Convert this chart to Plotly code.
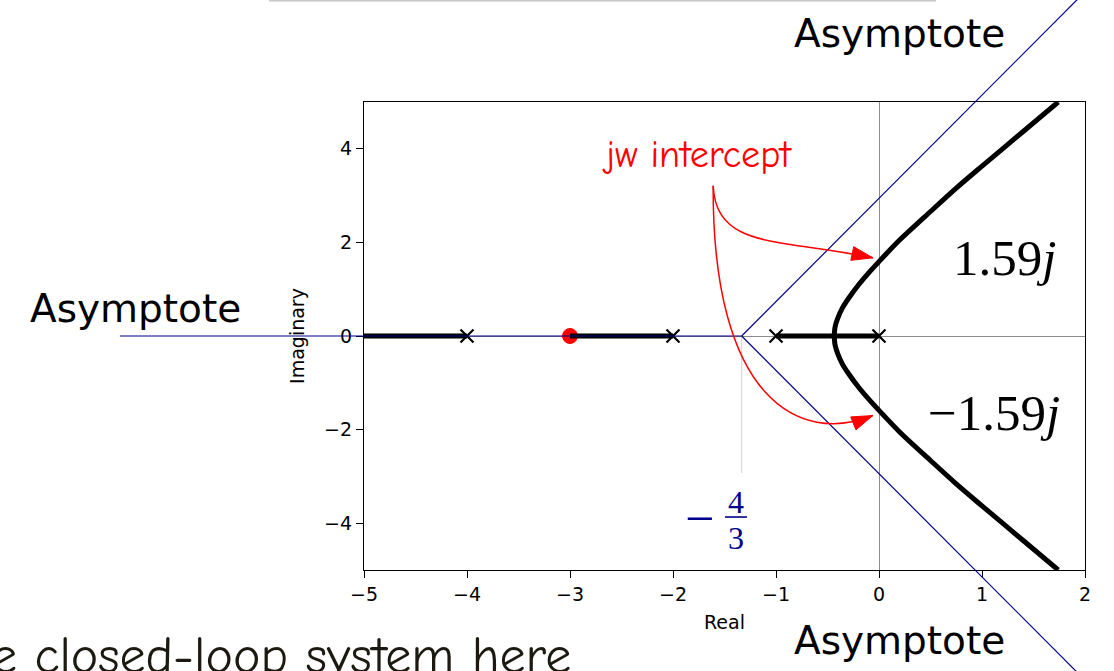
import math
import plotly.graph_objects as go

# ---- open-loop poles and zero of G(s) = (s+3) / (s(s+1)(s+2)(s+4)) ----
poles_re = [0.0, -1.0, -2.0, -4.0]
poles_im = [0.0, 0.0, 0.0, 0.0]
zeros_re = [-3.0]
zeros_im = [0.0]

# ---- locus segments lying on the real axis ----
real_seg1_re = [-5.0, -4.0]
real_seg2_re = [-3.0, -2.0]
real_seg3_re = [-1.0, 0.0]
real_seg_im = [0.0, 0.0]

# ---- complex branches leaving the breakaway point ----
upper_re = [-0.435, -0.426, -0.40, -0.355, -0.30, -0.20, -0.10, 0.0, 0.20, 0.50, 0.75, 1.00, 1.40, 1.74]
upper_im = [0.0, 0.20, 0.38, 0.60, 0.79, 1.09, 1.35, 1.59, 2.05, 2.66, 3.16, 3.63, 4.37, 5.0]
lower_re = [-0.435, -0.426, -0.40, -0.355, -0.30, -0.20, -0.10, 0.0, 0.20, 0.50, 0.75, 1.00, 1.40, 1.74]
lower_im = [0.0, -0.20, -0.38, -0.60, -0.79, -1.09, -1.35, -1.59, -2.05, -2.66, -3.16, -3.63, -4.37, -5.0]

# ---- asymptotes ----
asym_centroid = -4 / 3
asym_left_end_re = -7.37
asym_right_end_re = 1.93
asym_right_end_im = 7.2

# ---- annotation labels ----
jw_upper_label = "1.59<i>j</i>"
jw_lower_label = "\u22121.59<i>j</i>"

# ---- figure geometry ----
W, H = 1114, 671
ML, MR, MT, MB = 364, 29, 102, 101
XR = [-5, 2]
YR = [-5, 5]
PLOT_W = W - ML - MR
PLOT_H = H - MT - MB
PX_X = PLOT_W / (XR[1] - XR[0])
PX_Y = PLOT_H / (YR[1] - YR[0])

NAVY = "#00008b"
RED = "#ff0000"


def to_paper(x, y):
    return (x - XR[0]) / (XR[1] - XR[0]), (y - YR[0]) / (YR[1] - YR[0])


def arrow_head(tip, ctrl, length=21, half=7):
    dx = (tip[0] - ctrl[0]) * PX_X
    dy = (tip[1] - ctrl[1]) * PX_Y
    n = math.hypot(dx, dy)
    ux, uy = dx / n, dy / n
    bx, by = -ux * length, -uy * length
    nx, ny = -uy * half, ux * half
    p1 = (tip[0] + (bx + nx) / PX_X, tip[1] + (by + ny) / PX_Y)
    p2 = (tip[0] + (bx - nx) / PX_X, tip[1] + (by - ny) / PX_Y)
    return f"M {tip[0]},{tip[1]} L {p1[0]},{p1[1]} L {p2[0]},{p2[1]} Z"


fig = go.Figure()

# zero (drawn first so the locus passes over it)
fig.add_trace(go.Scatter(x=zeros_re, y=zeros_im, mode="markers",
                         marker=dict(symbol="circle", size=15, color=RED,
                                     line=dict(color=RED, width=1)),
                         hoverinfo="skip", showlegend=False))

# real-axis locus
for seg in (real_seg1_re, real_seg2_re, real_seg3_re):
    fig.add_trace(go.Scatter(x=seg, y=real_seg_im, mode="lines",
                             line=dict(color="black", width=5),
                             hoverinfo="skip", showlegend=False))

# complex branches
for bx, by in ((upper_re, upper_im), (lower_re, lower_im)):
    fig.add_trace(go.Scatter(x=bx, y=by, mode="lines",
                             line=dict(color="black", width=5, shape="spline", smoothing=0.8),
                             hoverinfo="skip", showlegend=False))

# poles
fig.add_trace(go.Scatter(x=poles_re, y=poles_im, mode="markers",
                         marker=dict(symbol="x-thin", size=13,
                                     line=dict(color="black", width=2.2)),
                         hoverinfo="skip", showlegend=False))

shapes = []

# asymptotes (extend beyond the axes, so they live in paper space)
c0 = to_paper(asym_centroid, 0)
for end in ((asym_left_end_re, 0.0),
            (asym_right_end_re, asym_right_end_im),
            (asym_right_end_re, -asym_right_end_im)):
    e = to_paper(*end)
    shapes.append(dict(type="line", xref="paper", yref="paper",
                       x0=c0[0], y0=c0[1], x1=e[0], y1=e[1],
                       line=dict(color=NAVY, width=1.2), layer="above"))

# faint guide from the centroid down to its label
shapes.append(dict(type="line", xref="x", yref="y", x0=asym_centroid, y0=0,
                   x1=asym_centroid, y1=-2.93,
                   line=dict(color="#d9d9d9", width=1.2), layer="below"))

# curved red pointers from the "jw intercept" note to the axis crossings
start = (-1.61, 3.21)
up_c1, up_c2, up_tip = (-1.58, 1.84), (-0.96, 2.09), (-0.06, 1.67)
lo_c1, lo_c2, lo_tip = (-1.62, -1.37), (-0.77, -2.33), (-0.06, -1.70)
for c1, c2, tip in ((up_c1, up_c2, up_tip), (lo_c1, lo_c2, lo_tip)):
    shapes.append(dict(type="path", xref="x", yref="y",
                       path=f"M {start[0]},{start[1]} C {c1[0]},{c1[1]} {c2[0]},{c2[1]} {tip[0]},{tip[1]}",
                       line=dict(color=RED, width=1.5), layer="above"))
    shapes.append(dict(type="path", xref="x", yref="y", path=arrow_head(tip, c2),
                       fillcolor=RED, line=dict(color=RED, width=1), layer="above"))

# fraction bar of -4/3
shapes.append(dict(type="line", xref="x", yref="y", x0=-1.495, y0=-3.868, x1=-1.282, y1=-3.868,
                   line=dict(color=NAVY, width=1.6), layer="above"))

# thin slide rule at the very top
shapes.append(dict(type="line", xref="paper", yref="paper",
                   x0=(269 - ML) / PLOT_W, x1=(936 - ML) / PLOT_W,
                   y0=(H - MB - 0.5) / PLOT_H, y1=(H - MB - 0.5) / PLOT_H,
                   line=dict(color="#c8c8c8", width=2)))

annotations = []
SANS = "DejaVu Sans"
SERIF = "Liberation Serif"
HAND = "Comic Sans MS, Comic Neue, DejaVu Sans"


def note(x, y, text, size, color="black", family=SANS, xanchor="center", yanchor="middle"):
    px, py = to_paper(x, y)
    annotations.append(dict(x=px, y=py, xref="paper", yref="paper", text=text, showarrow=False,
                            xanchor=xanchor, yanchor=yanchor,
                            font=dict(family=family, size=size, color=color)))


note(0.2, 6.47, "Asymptote", 39)
note(-7.22, 0.59, "Asymptote", 39)
note(0.2, -6.5, "Asymptote", 39)
note(-1.77, 3.87, "jw intercept", 38, color=RED, family=HAND)
note(-2.97, -6.84, "e closed-loop system here", 52, color="#1c1a10", family=HAND, xanchor="right")
note(1.22, 1.67, jw_upper_label, 51, family=SERIF)
note(1.12, -1.64, jw_lower_label, 51, family=SERIF)
note(-1.738, -3.89, "\u2212", 52, color=NAVY, family=SERIF)
note(-1.388, -3.54, "4", 32, color=NAVY, family=SERIF)
note(-1.388, -4.31, "3", 32, color=NAVY, family=SERIF)

axis_common = dict(showgrid=False, showline=True, linecolor="black", linewidth=1.2, mirror=True,
                   ticks="outside", ticklen=7, tickwidth=1.2, tickcolor="black",
                   tickfont=dict(family=SANS, size=19, color="black"),
                   zeroline=True, zerolinecolor="#8c8c8c", zerolinewidth=1.2,
                   automargin=False)

fig.update_layout(
    width=W, height=H,
    margin=dict(l=ML, r=MR, t=MT, b=MB),
    paper_bgcolor="white", plot_bgcolor="white",
    xaxis=dict(range=XR, tickvals=[-5, -4, -3, -2, -1, 0, 1, 2],
               title=dict(text="Real", font=dict(family=SANS, size=19, color="black"), standoff=11),
               **axis_common),
    yaxis=dict(range=YR, tickvals=[-4, -2, 0, 2, 4],
               title=dict(text="Imaginary", font=dict(family=SANS, size=19, color="black"), standoff=14),
               **axis_common),
    shapes=shapes,
    annotations=annotations,
)

fig.write_html("out.html")
